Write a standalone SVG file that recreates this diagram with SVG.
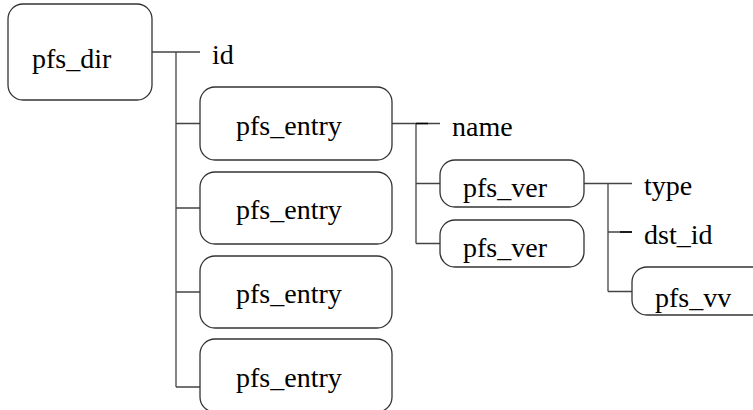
<svg xmlns="http://www.w3.org/2000/svg" width="753" height="410" viewBox="0 0 753 410">
<style>
.box{fill:#fff;stroke:#333;stroke-width:1.3}
.ln{fill:none;stroke:#444;stroke-width:1.3}
.dk{fill:none;stroke:#000;stroke-width:1.6}
text{font-family:"Liberation Serif","Times New Roman",serif;font-size:28px;fill:#000}
</style>
<rect width="753" height="410" fill="#fff"/>
<g id="connectors">
<path class="ln" d="M152,52H200M176,52V387M176,123.5H200M176,208H200M176,292H200M176,387H200"/>
<path class="ln" d="M392,123.5H440M416,123.5V243.5M416,183.5H440M416,243.5H440"/>
<path class="ln" d="M584,183.5H632M608,183.5V291.5M608,232H632M608,291.5H632"/>
<path class="dk" d="M416,123.5H428M620,232H632"/>
</g>
<g id="pfs_dir"><rect class="box" x="8" y="4" width="144" height="96" rx="15"/><text x="32" y="68">pfs_dir</text></g>
<g id="id"><text x="212" y="64">id</text></g>
<g id="pfs_entry1"><rect class="box" x="200" y="87" width="192" height="73" rx="15"/><text x="236" y="135">pfs_entry</text></g>
<g id="pfs_entry2"><rect class="box" x="200" y="172" width="192" height="72" rx="15"/><text x="236" y="219">pfs_entry</text></g>
<g id="pfs_entry3"><rect class="box" x="200" y="256" width="192" height="72" rx="15"/><text x="236" y="303">pfs_entry</text></g>
<g id="pfs_entry4"><rect class="box" x="200" y="339" width="192" height="73" rx="15"/><text x="236" y="387">pfs_entry</text></g>
<g id="name"><text x="452" y="136">name</text></g>
<g id="pfs_ver1"><rect class="box" x="440" y="160" width="144" height="47" rx="15"/><text x="463" y="197">pfs_ver</text></g>
<g id="pfs_ver2"><rect class="box" x="440" y="220" width="144" height="47" rx="15"/><text x="463" y="257">pfs_ver</text></g>
<g id="type"><text x="644" y="195">type</text></g>
<g id="dst_id"><text x="644" y="244">dst_id</text></g>
<g id="pfs_vv"><rect class="box" x="632" y="267" width="144" height="48" rx="15"/><text x="655" y="307">pfs_vv</text></g>
</svg>
